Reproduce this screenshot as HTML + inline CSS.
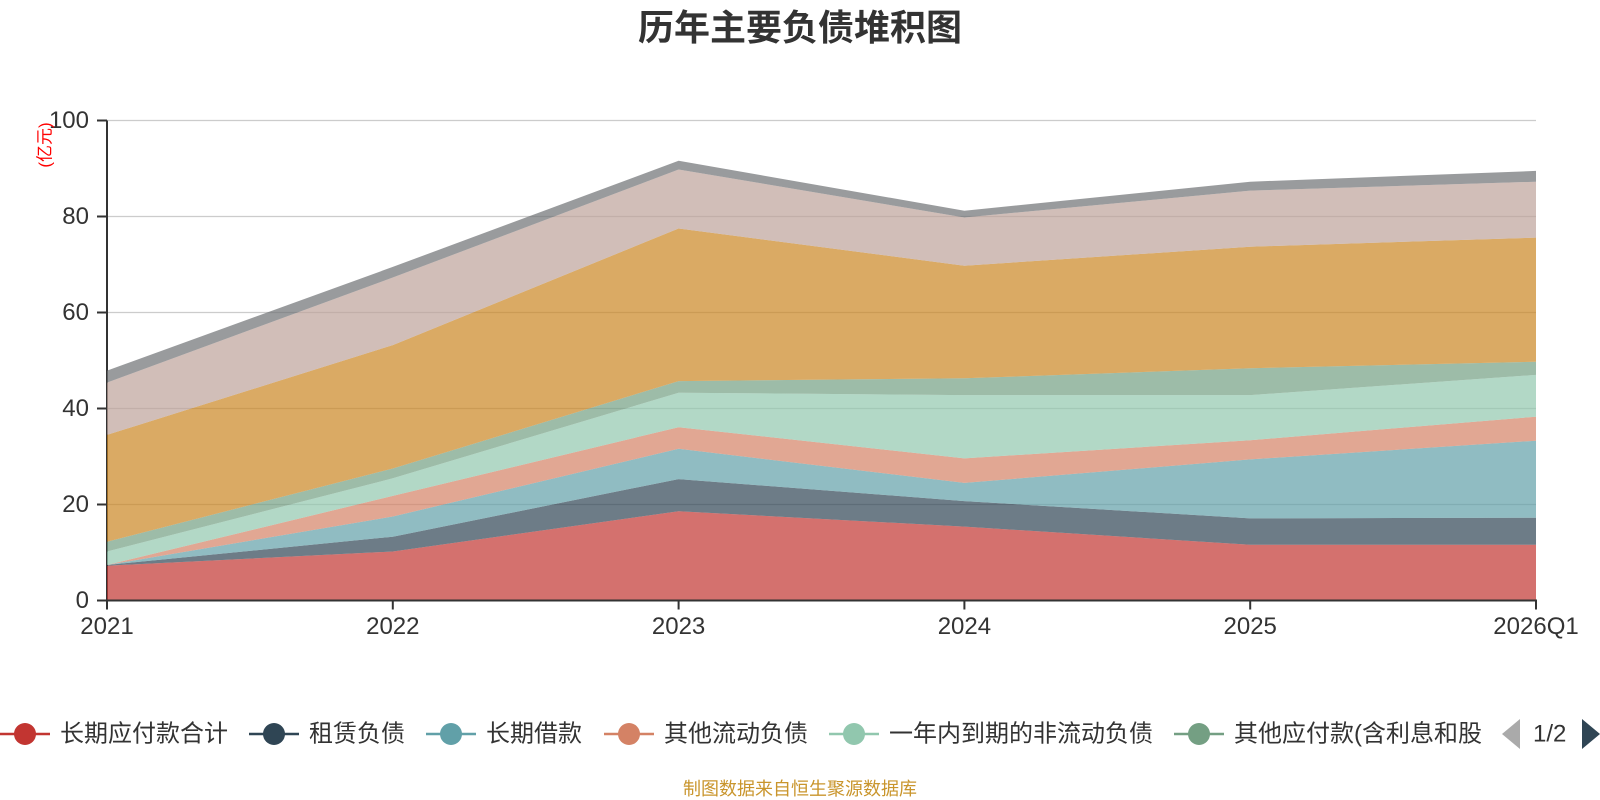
<!DOCTYPE html>
<html>
<head>
<meta charset="utf-8">
<style>
html,body{margin:0;padding:0;background:#fff;}
svg{display:block;}
text{font-family:"Liberation Sans","Noto Sans CJK SC",sans-serif;}
</style>
</head>
<body>
<svg width="1600" height="800" viewBox="0 0 1600 800" xmlns="http://www.w3.org/2000/svg">
  <rect width="1600" height="800" fill="#fff"/>
  <!-- title -->
  <text x="800" y="40" text-anchor="middle" font-size="36" font-weight="bold" fill="#333">历年主要负债堆积图</text>

  <!-- gridlines -->
  <g stroke="#cccccc" stroke-width="1.3">
    <line x1="107" y1="120.5" x2="1536" y2="120.5"/>
    <line x1="107" y1="216.5" x2="1536" y2="216.5"/>
    <line x1="107" y1="312.5" x2="1536" y2="312.5"/>
    <line x1="107" y1="408.5" x2="1536" y2="408.5"/>
    <line x1="107" y1="504.5" x2="1536" y2="504.5"/>
  </g>
  <!-- y axis line (under areas) -->
  <line x1="107" y1="120.5" x2="107" y2="601" stroke="#333" stroke-width="2"/>
  <g stroke="#333" stroke-width="2">
    <line x1="97" y1="120.5" x2="107" y2="120.5"/>
    <line x1="97" y1="216.5" x2="107" y2="216.5"/>
    <line x1="97" y1="312.5" x2="107" y2="312.5"/>
    <line x1="97" y1="408.5" x2="107" y2="408.5"/>
    <line x1="97" y1="504.5" x2="107" y2="504.5"/>
    <line x1="97" y1="600.5" x2="107" y2="600.5"/>
  </g>

  <!-- stacked areas -->
  <g fill-opacity="0.7" stroke="none">
    <polygon fill="#c23531" points="107,565.7 392.8,551.5 678.6,511.2 964.4,526.6 1250.2,544.8 1536,544.8 1536,600.5 107,600.5"/>
    <polygon fill="#2f4554" points="107,565.0 392.8,536.7 678.6,479.1 964.4,501.1 1250.2,518.4 1536,517.7 1536,544.8 1250.2,544.8 964.4,526.6 678.6,511.2 392.8,551.5 107,565.7"/>
    <polygon fill="#61a0a8" points="107,565.0 392.8,516.5 678.6,448.8 964.4,482.9 1250.2,459.4 1536,440.7 1536,517.7 1250.2,518.4 964.4,501.1 678.6,479.1 392.8,536.7 107,565.0"/>
    <polygon fill="#d48265" points="107,565.0 392.8,495.9 678.6,427.2 964.4,458.4 1250.2,440.2 1536,416.7 1536,440.7 1250.2,459.4 964.4,482.9 678.6,448.8 392.8,516.5 107,565.0"/>
    <polygon fill="#91c7ae" points="107,551.5 392.8,478.3 678.6,392.7 964.4,395.1 1250.2,395.1 1536,374.9 1536,416.7 1250.2,440.2 964.4,458.4 678.6,427.2 392.8,495.9 107,565.0"/>
    <polygon fill="#749f83" points="107,541.7 392.8,468.5 678.6,381.1 964.4,378.3 1250.2,368.2 1536,361.7 1536,374.9 1250.2,395.1 964.4,395.1 678.6,392.7 392.8,478.3 107,551.5"/>
    <polygon fill="#ca8622" points="107,434.9 392.8,345.1 678.6,228.5 964.4,265.7 1250.2,246.7 1536,237.6 1536,361.7 1250.2,368.2 964.4,378.3 678.6,381.1 392.8,468.5 107,541.7"/>
    <polygon fill="#bda29a" points="107,382.6 392.8,277.5 678.6,169.5 964.4,217.5 1250.2,190.6 1536,181.7 1536,237.6 1250.2,246.7 964.4,265.7 678.6,228.5 392.8,345.1 107,434.9"/>
    <polygon fill="#6e7074" points="107,370.6 392.8,266.9 678.6,160.8 964.4,210.7 1250.2,181.7 1536,170.9 1536,181.7 1250.2,190.6 964.4,217.5 678.6,169.5 392.8,277.5 107,382.6"/>
  </g>

  <!-- x axis -->
  <line x1="106" y1="600.5" x2="1537" y2="600.5" stroke="#333" stroke-width="2"/>
  <g stroke="#333" stroke-width="2">
    <line x1="107" y1="600.5" x2="107" y2="609.5"/>
    <line x1="392.8" y1="600.5" x2="392.8" y2="609.5"/>
    <line x1="678.6" y1="600.5" x2="678.6" y2="609.5"/>
    <line x1="964.4" y1="600.5" x2="964.4" y2="609.5"/>
    <line x1="1250.2" y1="600.5" x2="1250.2" y2="609.5"/>
    <line x1="1536" y1="600.5" x2="1536" y2="609.5"/>
  </g>

  <!-- y labels -->
  <g font-size="24" fill="#333" text-anchor="end">
    <text x="89" y="128">100</text>
    <text x="89" y="224">80</text>
    <text x="89" y="320">60</text>
    <text x="89" y="416">40</text>
    <text x="89" y="512">20</text>
    <text x="89" y="608">0</text>
  </g>
  <!-- x labels -->
  <g font-size="24" fill="#333" text-anchor="middle">
    <text x="107" y="634">2021</text>
    <text x="392.8" y="634">2022</text>
    <text x="678.6" y="634">2023</text>
    <text x="964.4" y="634">2024</text>
    <text x="1250.2" y="634">2025</text>
    <text x="1536" y="634">2026Q1</text>
  </g>

  <!-- y axis name -->
  <text transform="translate(45,145) rotate(-90)" text-anchor="middle" dominant-baseline="central" font-size="17" fill="#ff0000">(亿元)</text>

  <!-- legend -->
  <g stroke-width="2.5">
    <line x1="0" y1="734" x2="50" y2="734" stroke="#c23531"/>
    <circle cx="25" cy="734" r="11" fill="#c23531" stroke="none"/>
    <line x1="249" y1="734" x2="299" y2="734" stroke="#2f4554"/>
    <circle cx="274" cy="734" r="11" fill="#2f4554" stroke="none"/>
    <line x1="426" y1="734" x2="476" y2="734" stroke="#61a0a8"/>
    <circle cx="451" cy="734" r="11" fill="#61a0a8" stroke="none"/>
    <line x1="604" y1="734" x2="654" y2="734" stroke="#d48265"/>
    <circle cx="629" cy="734" r="11" fill="#d48265" stroke="none"/>
    <line x1="829" y1="734" x2="879" y2="734" stroke="#91c7ae"/>
    <circle cx="854" cy="734" r="11" fill="#91c7ae" stroke="none"/>
    <line x1="1174" y1="734" x2="1224" y2="734" stroke="#749f83"/>
    <circle cx="1199" cy="734" r="11" fill="#749f83" stroke="none"/>
  </g>
  <g font-size="24" fill="#333" dominant-baseline="central">
    <text x="60" y="734">长期应付款合计</text>
    <text x="309" y="734">租赁负债</text>
    <text x="486" y="734">长期借款</text>
    <text x="664" y="734">其他流动负债</text>
    <text x="889" y="734">一年内到期的非流动负债</text>
    <text x="1234" y="734">其他应付款(含利息和股</text>
  </g>
  <!-- pager -->
  <polygon points="1520,719 1520,749 1502,734" fill="#aaaaaa"/>
  <text x="1533" y="734" font-size="24" fill="#333" dominant-baseline="central">1/2</text>
  <polygon points="1582,719 1582,749 1600,734" fill="#2f4554"/>

  <!-- footer -->
  <text x="800" y="789" text-anchor="middle" dominant-baseline="central" font-size="18" fill="#c9952c">制图数据来自恒生聚源数据库</text>
</svg>
</body>
</html>
